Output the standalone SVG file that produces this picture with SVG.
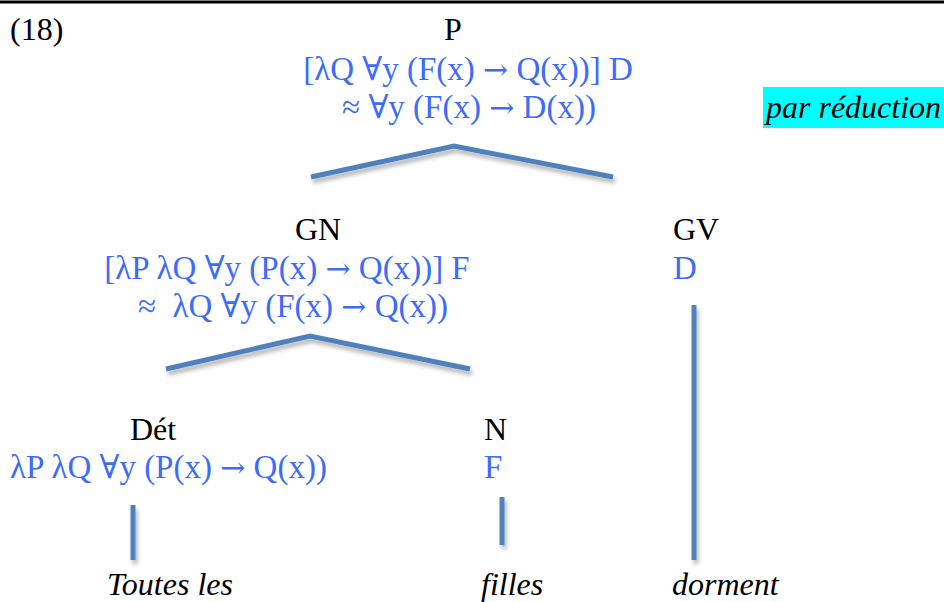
<svg xmlns="http://www.w3.org/2000/svg" width="944" height="602" viewBox="0 0 944 602">
<style>
text{font-family:"Liberation Serif","DejaVu Serif",serif;font-size:32px}
.k{fill:#000}
.b{fill:#3f6cf6;font-size:33px;white-space:pre}
.i{font-style:italic;fill:#000}
.c{text-anchor:middle}
.ar{font-family:"DejaVu Serif",serif;font-size:30px}
.ln{stroke:#4f81bd;stroke-width:5;fill:none;stroke-linejoin:miter;filter:url(#sh)}
</style>
<defs>
<filter id="sh" filterUnits="userSpaceOnUse" x="0" y="0" width="944" height="602">
<feGaussianBlur in="SourceAlpha" stdDeviation="2"/>
<feOffset dx="2" dy="4" result="o"/>
<feComponentTransfer><feFuncA type="linear" slope="0.3"/></feComponentTransfer>
<feMerge><feMergeNode/><feMergeNode in="SourceGraphic"/></feMerge>
</filter>
</defs>
<rect width="944" height="602" fill="#fff"/>
<line x1="0" y1="2" x2="944" y2="2" stroke="#000" stroke-width="3"/>
<text x="10" y="40" class="k">(18)</text>
<g id="P">
<text x="453" y="40" class="k c">P</text>
<text x="468" y="80" class="b c">[λQ ∀y (F(x) <tspan class="ar">→</tspan> Q(x))] D</text>
<text x="469" y="118" class="b c">≈ ∀y (F(x) <tspan class="ar">→</tspan> D(x))</text>
</g>
<g id="note">
<rect x="763" y="87" width="181" height="41" fill="#00ffff"/>
<text x="766" y="118" class="i" font-size="33">par réduction</text>
</g>
<g id="GN">
<text x="318" y="240" class="k c">GN</text>
<text x="287" y="279" class="b c">[λP λQ ∀y (P(x) <tspan class="ar">→</tspan> Q(x))] F</text>
<text x="293" y="317" class="b c" xml:space="preserve">≈  λQ ∀y (F(x) <tspan class="ar">→</tspan> Q(x))</text>
</g>
<g id="GV">
<text x="673" y="240" class="k">GV</text>
<text x="673" y="279" class="b">D</text>
</g>
<g id="Det">
<text x="153" y="440" class="k c">Dét</text>
<text x="10" y="478" class="b">λP λQ ∀y (P(x) <tspan class="ar">→</tspan> Q(x))</text>
</g>
<g id="N">
<text x="484" y="440" class="k">N</text>
<text x="484" y="478" class="b">F</text>
</g>
<g id="w1"><text x="107" y="595" class="i">Toutes les</text></g>
<g id="w2"><text x="481" y="595" class="i">filles</text></g>
<g id="w3"><text x="672" y="595" class="i">dorment</text></g>
<g id="connectors">
<polyline class="ln" points="311,177 454,146 613,177"/>
<polyline class="ln" points="166,369 310,336 470,369"/>
<line class="ln" x1="694" y1="305" x2="694" y2="560"/>
<line class="ln" x1="133" y1="505" x2="133" y2="560"/>
<line class="ln" x1="502" y1="497" x2="502" y2="545"/>
</g>
</svg>
